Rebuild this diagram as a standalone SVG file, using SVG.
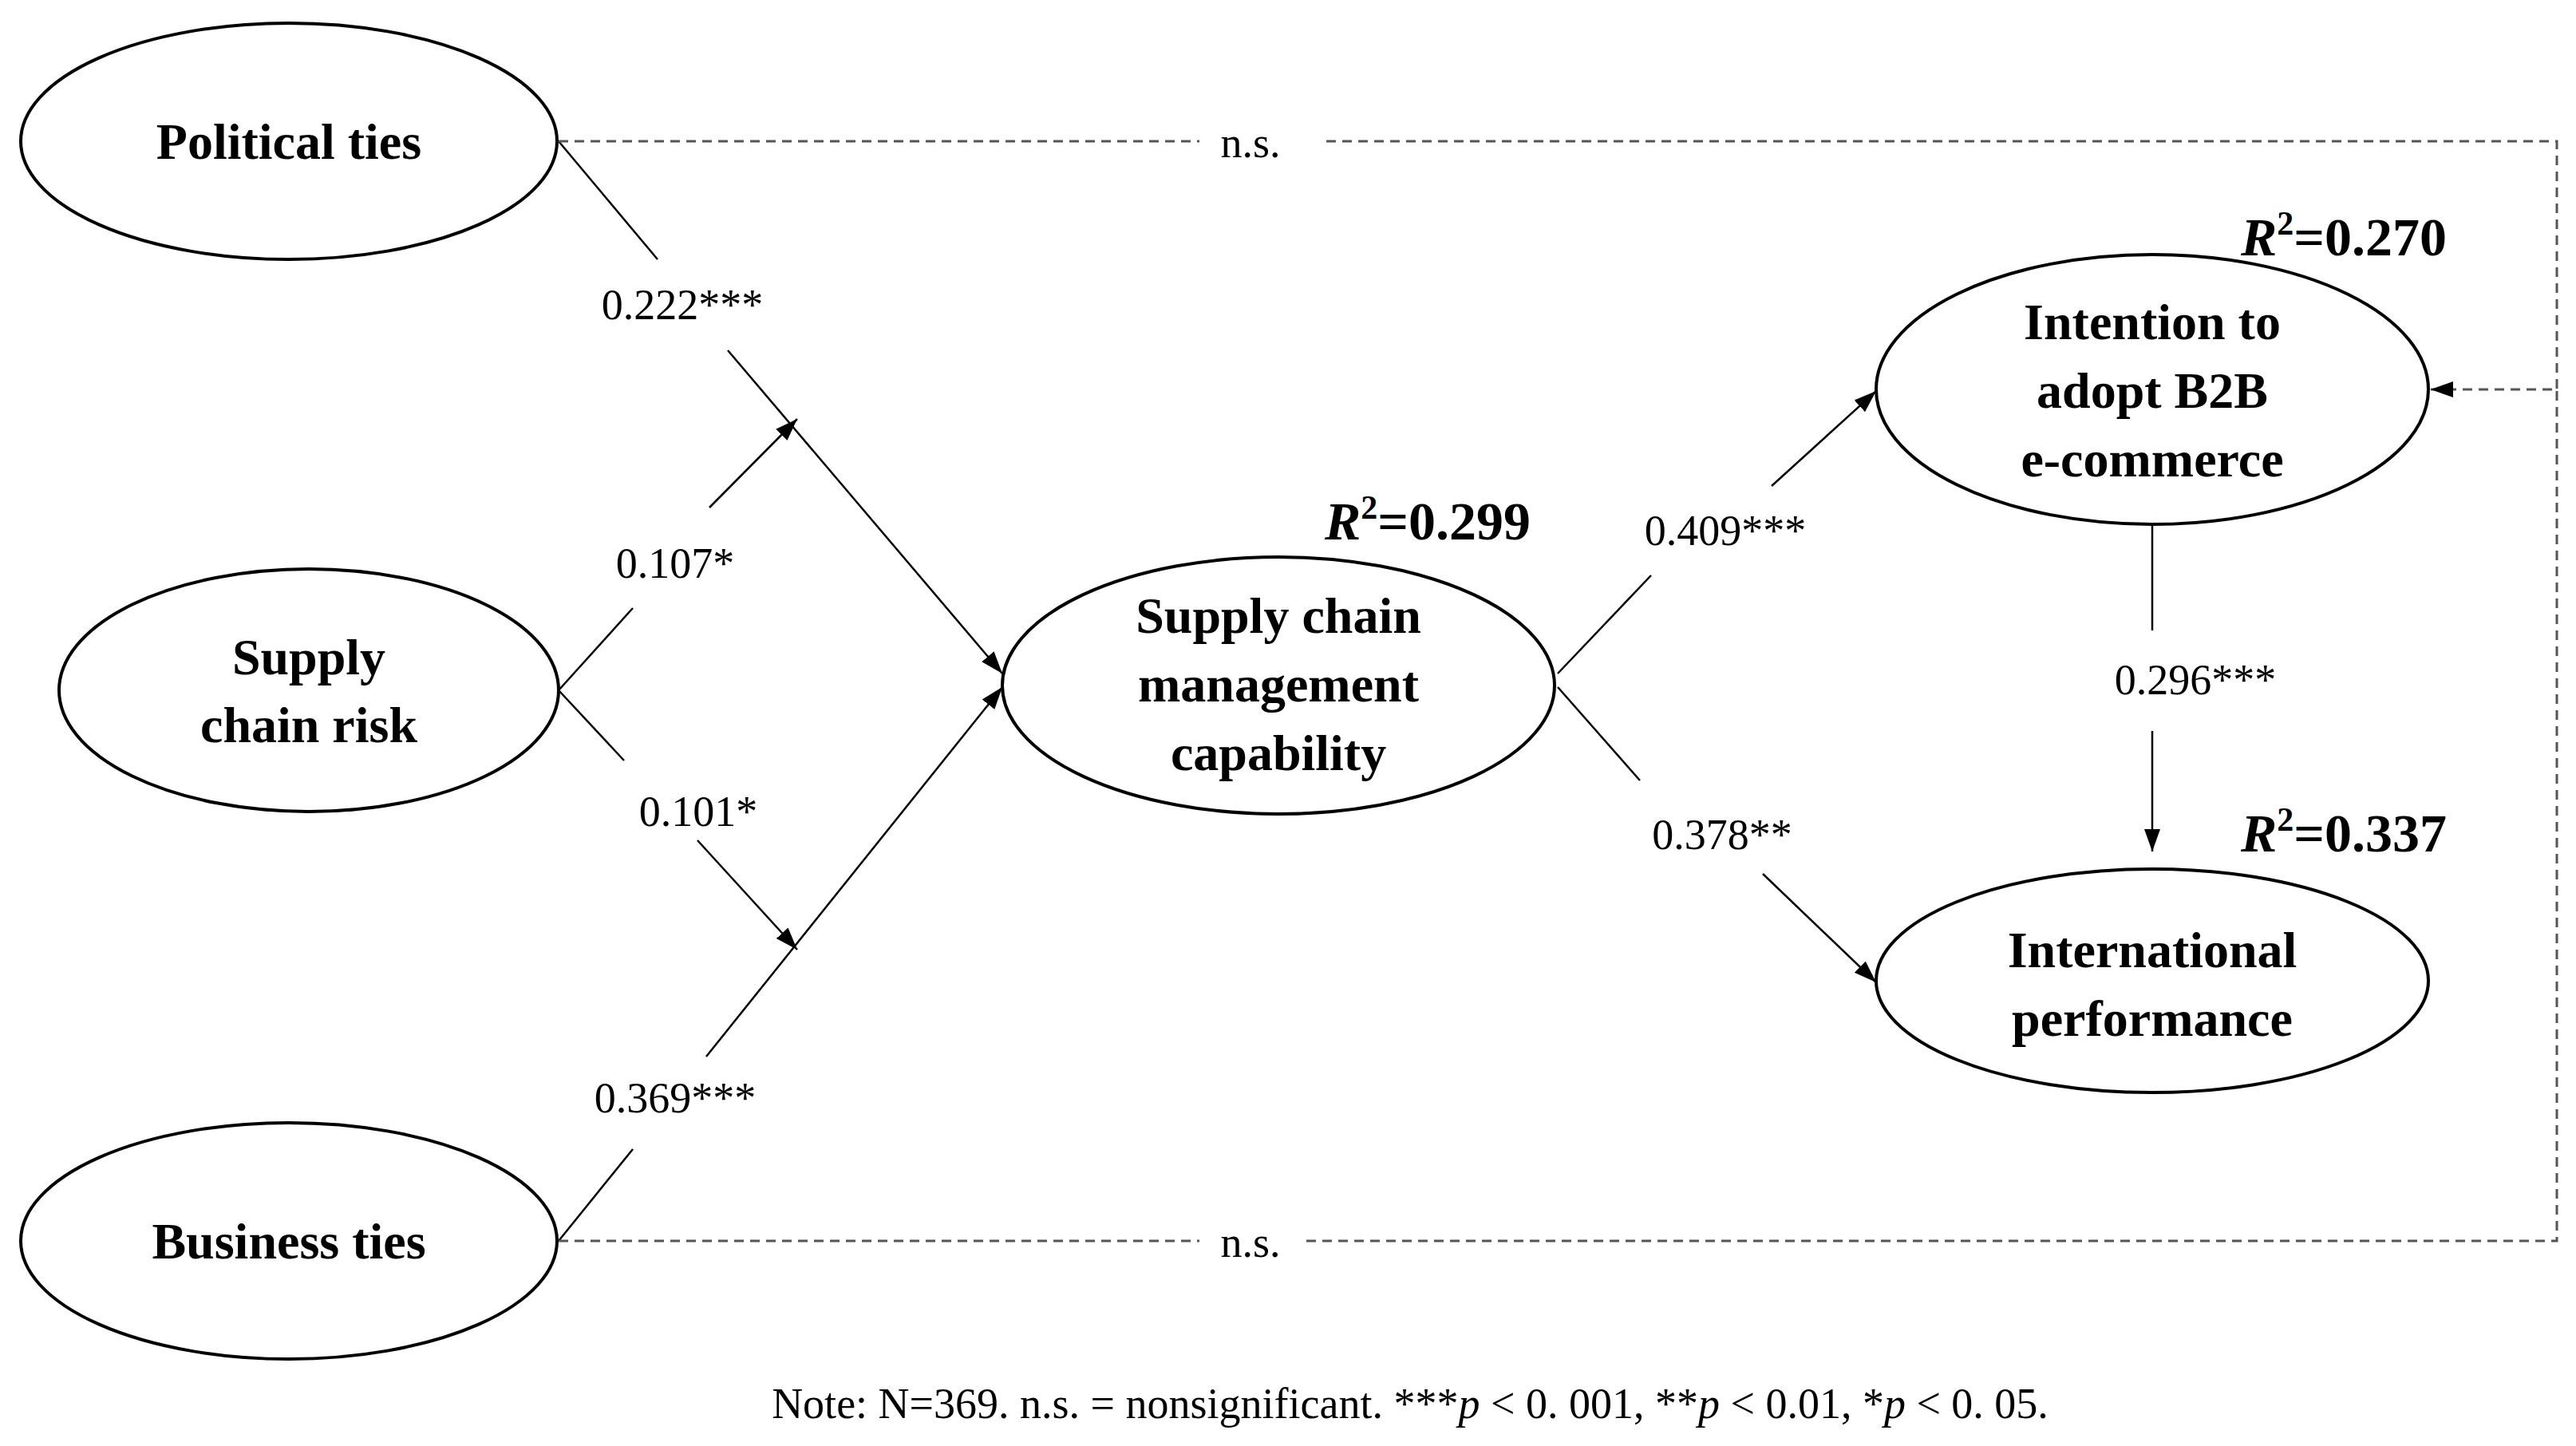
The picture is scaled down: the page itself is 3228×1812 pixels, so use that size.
<svg xmlns="http://www.w3.org/2000/svg" width="3228" height="1812" viewBox="0 0 3228 1812">
<style>
.n{fill:#fff;stroke:#000;stroke-width:4}
.t{font-family:"Liberation Serif",serif;font-weight:bold;font-size:64px;text-anchor:middle}
.l{font-family:"Liberation Serif",serif;font-size:54px;text-anchor:middle}
.r{font-family:"Liberation Serif",serif;font-weight:bold;font-size:68px}
.c{fill:none;stroke:#000;stroke-width:2.5}
.d{fill:none;stroke:#555;stroke-width:3;stroke-dasharray:12 8}
</style>
<defs><marker id="a" markerUnits="userSpaceOnUse" markerWidth="30" markerHeight="24" refX="28" refY="12" orient="auto"><path d="M0,2 L28,12 L0,22 Z" fill="#000"/></marker></defs>
<rect width="3228" height="1812" fill="#fff"/>
<g id="connectors">
<path class="c" d="M700,177 L824,325"/><path class="c" d="M912,439 L1256,844" marker-end="url(#a)"/>
<path class="c" d="M700,865 L793,762"/><path class="c" d="M889,636 L999,525" marker-end="url(#a)"/>
<path class="c" d="M700,865 L782,953"/><path class="c" d="M874,1053 L999,1190" marker-end="url(#a)"/>
<path class="c" d="M700,1555 L793,1440"/><path class="c" d="M885,1324 L1256,861" marker-end="url(#a)"/>
<path class="c" d="M1952,844 L2069,721"/><path class="c" d="M2220,609 L2351,490" marker-end="url(#a)"/>
<path class="c" d="M1952,861 L2055,978"/><path class="c" d="M2209,1095 L2351,1231" marker-end="url(#a)"/>
<path class="c" d="M2697,657 L2697,790"/><path class="c" d="M2697,916 L2697,1067" marker-end="url(#a)"/>
<path class="d" d="M700,177 L1503,177"/><path class="d" d="M1662,177 L3204,177 L3204,488"/>
<path class="d" d="M700,1555 L1503,1555"/><path class="d" d="M1637,1555 L3204,1555 L3204,488 L3046,488" marker-end="url(#a)"/>
<text class="l" x="855" y="400">0.222***</text>
<text class="l" x="846" y="724">0.107*</text>
<text class="l" x="875" y="1035">0.101*</text>
<text class="l" x="846" y="1394">0.369***</text>
<text class="l" x="2162" y="683">0.409***</text>
<text class="l" x="2158" y="1064">0.378**</text>
<text class="l" x="2751" y="870">0.296***</text>
<text class="l" x="1567" y="197">n.s.</text>
<text class="l" x="1567" y="1575">n.s.</text>
</g>
<g id="political"><ellipse class="n" cx="362" cy="177" rx="336" ry="148"/><text class="t" x="362" y="199">Political ties</text></g>
<g id="risk"><ellipse class="n" cx="387" cy="865" rx="313" ry="152"/><text class="t" x="387" y="845">Supply</text><text class="t" x="387" y="930">chain risk</text></g>
<g id="business"><ellipse class="n" cx="362" cy="1555" rx="336" ry="148"/><text class="t" x="362" y="1577">Business ties</text></g>
<g id="scm"><ellipse class="n" cx="1602" cy="859" rx="346" ry="161"/><text class="t" x="1602" y="793">Supply chain</text><text class="t" x="1602" y="879">management</text><text class="t" x="1602" y="965">capability</text>
<text class="r" x="1660" y="676"><tspan font-style="italic">R</tspan><tspan font-size="42" dy="-26">2</tspan><tspan dy="26">=0.299</tspan></text></g>
<g id="intention"><ellipse class="n" cx="2697" cy="488" rx="346" ry="169"/><text class="t" x="2697" y="425">Intention to</text><text class="t" x="2697" y="511">adopt B2B</text><text class="t" x="2697" y="597">e-commerce</text>
<text class="r" x="2808" y="320"><tspan font-style="italic">R</tspan><tspan font-size="42" dy="-26">2</tspan><tspan dy="26">=0.270</tspan></text></g>
<g id="performance"><ellipse class="n" cx="2697" cy="1229" rx="346" ry="140"/><text class="t" x="2697" y="1212">International</text><text class="t" x="2697" y="1298">performance</text>
<text class="r" x="2808" y="1067"><tspan font-style="italic">R</tspan><tspan font-size="42" dy="-26">2</tspan><tspan dy="26">=0.337</tspan></text></g>
<text class="l" x="1767" y="1777" font-size="56">Note: N=369. n.s. = nonsignificant.  ***<tspan font-style="italic">p</tspan> &lt; 0. 001, **<tspan font-style="italic">p</tspan> &lt; 0.01, *<tspan font-style="italic">p</tspan> &lt; 0. 05.</text>
</svg>
